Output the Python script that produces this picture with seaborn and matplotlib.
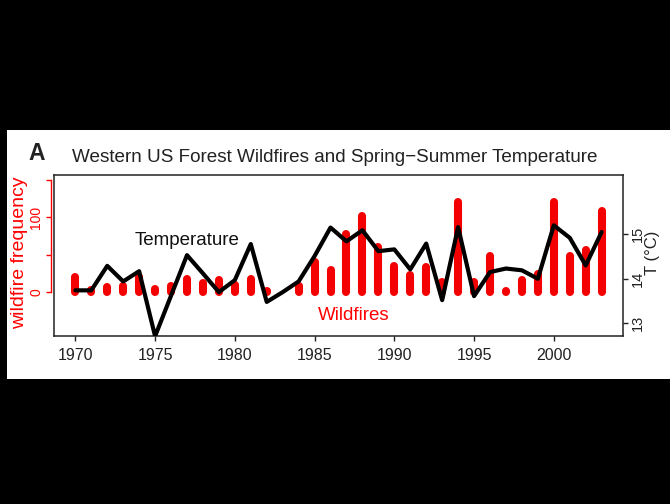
import matplotlib
matplotlib.use("Agg")
import matplotlib.pyplot as plt
from matplotlib.patches import Rectangle
import seaborn as sns
import numpy as np
import pandas as pd

# Annual series, 1970-2003
years = list(range(1970, 2004))
wildfires = [20, 3, 7, 9, 20, 5, 9, 18, 12, 17, 10, 18,
             2, 1, 8, 40, 30, 78, 102, 60, 35, 23, 34,
             14, 120, 14, 49, 2, 16, 25, 120, 49, 56, 108]
temperature = [13.74, 13.74, 14.29, 13.94, 14.17, 12.71, 13.62, 14.53, 14.12, 13.70, 13.97, 14.78,
               13.48, 13.70, 13.94, 14.51, 15.15, 14.84, 15.09, 14.62, 14.66, 14.21, 14.79,
               13.52, 15.16, 13.61, 14.15, 14.23, 14.19, 14.00, 15.20, 14.92, 14.30, 15.05]

year_ticks = [1970, 1975, 1980, 1985, 1990, 1995, 2000]
fire_ticks = [0, 50, 100, 150]
fire_tick_labels = ["0", "", "100", ""]
temp_ticks = [13, 14, 15]

title = "Western US Forest Wildfires and Spring\u2212Summer Temperature"
panel_letter = "A"
fire_label = "wildfire frequency"
temp_label = "T (\u00b0C)"

df = pd.DataFrame({"year": years, "fires": wildfires, "temp": temperature})

sns.set_style("white")
plt.rcParams["font.family"] = ["Liberation Sans", "DejaVu Sans"]

W, H = 670, 504
fig = plt.figure(figsize=(W / 100, H / 100), dpi=100, facecolor="black")

# white panel on black page
fig.patches.append(Rectangle((7 / W, 1 - 379 / H), 663 / W, 249 / H,
                             transform=fig.transFigure, facecolor="white",
                             edgecolor="none", zorder=-10))

ax = fig.add_axes([54.3 / W, 1 - 336 / H, 568.4 / W, 161 / H])
ax.set_facecolor("white")

# wildfire counts as thick round-capped bars
ax.vlines(df["year"], 0, df["fires"], colors="#f50000", linewidth=5.8,
          capstyle="round", zorder=2)
ax.set_xlim(1968.68, 2004.32)
ax.set_ylim(-58, 156.5)

ax2 = ax.twinx()
sns.lineplot(data=df, x="year", y="temp", ax=ax2, color="black", linewidth=3.0,
             solid_joinstyle="round", solid_capstyle="round", zorder=3)
ax2.set_ylim(12.715, 16.33)
ax2.set_ylabel("")
ax.set_xlabel("")
ax.set_ylabel("")

# frame
for s in ax2.spines.values():
    s.set_visible(True)
    s.set_color("#222222")
    s.set_linewidth(1.1)

for side in ["top", "right", "bottom"]:
    ax.spines[side].set_visible(False)
ax.spines["left"].set_color("#ff0000")
ax.spines["left"].set_linewidth(1.0)
ax.spines["left"].set_position(("outward", 2.6))
ax.spines["left"].set_bounds(0, 150)

ax.set_xticks(year_ticks)
ax.set_xticklabels([str(y) for y in year_ticks])
ax.tick_params(axis="x", bottom=True, direction="out", length=3.5, width=1.0,
               color="#222222", labelsize=11.5, pad=5, labelcolor="#222222")

ax.set_yticks(fire_ticks)
ax.set_yticklabels(fire_tick_labels, rotation=90, va="center")
ax.tick_params(axis="y", left=True, direction="out", length=3.5, width=1.0,
               color="#ff0000", labelcolor="#ff0000", labelsize=10, pad=2)

ax2.set_yticks(temp_ticks)
ax2.set_yticklabels([str(t) for t in temp_ticks], rotation=90, va="center")
ax2.tick_params(axis="y", right=True, direction="out", length=3.5, width=1.0,
                color="#222222", labelcolor="#222222", labelsize=10.5, pad=2.5)

ax2.text(1976.98, 14.87, "Temperature", ha="center", va="center",
         fontsize=13.5, color="#111111", zorder=4)
ax.text(1987.45, -30.7, "Wildfires", ha="center", va="center",
        fontsize=13.5, color="#ff0000", zorder=4)

fig.text(71.7 / W, 1 - 161.7 / H, title, ha="left", va="baseline",
         fontsize=13.6, color="#222222")
fig.text(28.3 / W, 1 - 160 / H, panel_letter, ha="left", va="baseline",
         fontsize=16.5, fontweight="bold", color="#222222")
fig.text(20 / W, 1 - 253 / H, fire_label, rotation=90, ha="center", va="center",
         fontsize=14, color="#ff0000")
fig.text(653 / W, 1 - 253 / H, temp_label, rotation=90, ha="center", va="center",
         fontsize=12, color="#222222")

fig.savefig("out.png", dpi=100, facecolor="black")
